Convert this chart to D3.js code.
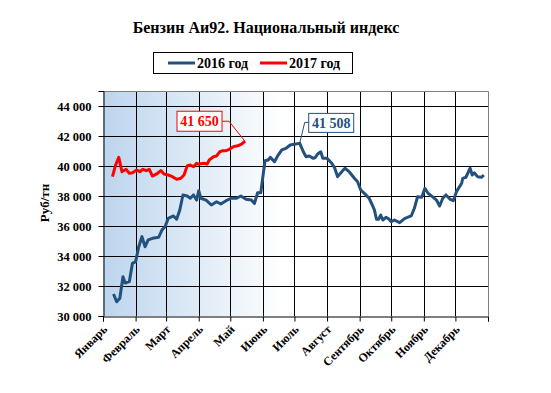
<!DOCTYPE html>
<html><head><meta charset="utf-8">
<script src="https://cdn.jsdelivr.net/npm/d3@7"></script>
<style>body{margin:0;background:#fff}svg{display:block}</style>
</head><body>
<script>
const title = "Бензин Аи92. Национальный индекс";
const yLabel = "Руб/тн";
const months = ["Январь","Февраль","Март","Апрель","Май","Июнь","Июль","Август","Сентябрь","Октябрь","Ноябрь","Декабрь"];
const yTicks = [30000,32000,34000,36000,38000,40000,42000,44000];
const seriesNames = ["2016 год","2017 год"];
// day of year (offset from 1 Jan) and price, series 2016
const days2016 = [10,13,16,19,21,25,28,31,34,37,40,43,47,53,56,59,62,67,70,73,76,80,83,86,89,91,93,98,103,108,112,117,122,127,131,136,141,144,147,150,152,154,157,159,163,166,170,174,178,183,187,190,193,196,200,202,204,207,209,213,217,220,223,227,230,234,239,242,245,250,253,256,258,260,262,264,266,269,272,274,277,282,287,293,296,299,303,306,309,314,317,320,323,326,330,333,336,341,342,345,349,351,353,356,360,362];
const values2016 = [31470,30950,31180,32620,32200,32290,33510,33620,34620,35290,34620,35070,35180,35250,35730,35950,36510,36670,36450,37070,38070,38000,37850,38070,37730,38350,37850,37730,37400,37620,37470,37690,37850,37850,38000,37780,37730,37510,38220,38220,39290,40350,40400,40580,40290,40670,41070,41180,41400,41470,41508,41020,40620,40670,40510,40580,40800,40950,40510,40510,40220,39910,39290,39620,39850,39620,39180,38950,38400,38070,37850,37400,37070,36450,36450,36730,36400,36580,36450,36290,36400,36220,36510,36670,37180,37950,37910,38510,38180,37910,37730,37330,37850,38070,37780,37690,38290,38850,39180,39250,39850,39400,39550,39290,39250,39400];
// series 2017
const days2017 = [9,12,15,18,22,25,28,32,35,38,41,44,47,51,55,58,62,66,70,74,77,80,83,86,89,91,96,99,101,105,108,111,114,117,120,124,127,130,132,135];
const values2017 = [39290,40070,40580,39620,39780,39510,39550,39730,39620,39780,39690,39780,39330,39470,39690,39470,39400,39290,39110,39180,39400,40000,40070,39950,40180,40130,40180,40130,40400,40620,40670,40950,41020,41020,41110,41290,41330,41400,41470,41650];
const labelTexts = ["41 508","41 650"];

const FONT = "'Liberation Serif', 'Times New Roman', 'DejaVu Serif', serif";
const W=551,H=393;
const L=103,R=488,T=91,B=316;
const svg=d3.select("body").append("svg").attr("width",W).attr("height",H)
  .attr("font-family",FONT).attr("font-weight","bold");
const base=new Date(2016,0,1);
const toDate=d=>d3.timeDay.offset(base,d);
const x=d3.scaleTime().domain([base,new Date(2017,0,1)]).range([L,R]);
const y=d3.scaleLinear().domain([30000,45000]).range([B,T]);

const defs=svg.append("defs");
const g=defs.append("linearGradient").attr("id","bg").attr("x1","0").attr("x2","1").attr("y1","0").attr("y2","0");
g.append("stop").attr("offset","0").attr("stop-color","#bcd5ed");
g.append("stop").attr("offset","0.47").attr("stop-color","#ffffff");
svg.append("rect").attr("x",L).attr("y",T).attr("width",R-L).attr("height",B-T).attr("fill","url(#bg)");

// gridlines
const monthStarts=d3.range(13).map(m=>new Date(2016,m,1));
svg.append("g").selectAll("line").data(monthStarts.slice(1,12)).join("line")
 .attr("x1",d=>Math.round(x(d))+0.5).attr("x2",d=>Math.round(x(d))+0.5).attr("y1",T).attr("y2",B).attr("stroke","#000").attr("stroke-width",1);
svg.append("g").selectAll("line").data(yTicks.slice(1)).join("line")
 .attr("x1",L).attr("x2",R).attr("y1",d=>Math.round(y(d))+0.5).attr("y2",d=>Math.round(y(d))+0.5).attr("stroke","#000").attr("stroke-width",1);
// border top/right gray
svg.append("path").attr("d",`M${L},${T+0.5}H${R+0.5}V${B}`).attr("fill","none").attr("stroke","#808080");

// axes
const yAxis=d3.axisLeft(y).tickValues(yTicks).tickSize(5).tickFormat(d=>d3.format(",")(d).replace(",", " "));
const ya=svg.append("g").attr("transform",`translate(${L+0.5},0)`).call(yAxis);
ya.attr("font-family",FONT);
ya.select(".domain").attr("stroke","#000");
ya.selectAll(".tick line").attr("stroke","#000");
ya.selectAll("text").attr("font-size",12.5).attr("font-family",FONT).attr("font-weight","bold").attr("fill","#000").attr("x",-12).attr("dy","0.35em");

const xAxis=d3.axisBottom(x).tickValues(monthStarts).tickSize(5).tickFormat("");
const xa=svg.append("g").attr("transform",`translate(0,${B+0.5})`).call(xAxis);
xa.select(".domain").attr("stroke","#000");
xa.selectAll(".tick line").attr("stroke","#000");
svg.append("g").selectAll("text").data(months).join("text")
 .attr("transform",(d,i)=>`translate(${x(monthStarts[i])+5},${B+14}) rotate(-45)`)
 .attr("text-anchor","end").attr("font-size",12).attr("font-family",FONT).attr("fill","#000").text(d=>d);

// lines
const line=d3.line().x(d=>x(toDate(d[0]))).y(d=>y(d[1]));
const s2016=days2016.map((d,i)=>[d,values2016[i]]);
const s2017=days2017.map((d,i)=>[d,values2017[i]]);
svg.append("path").datum(s2016).attr("d",line).attr("fill","none").attr("stroke","#23507d").attr("stroke-width",3).attr("stroke-linejoin","round");
svg.append("path").datum(s2017).attr("d",line).attr("fill","none").attr("stroke","#ff0000").attr("stroke-width",3).attr("stroke-linejoin","round");

// annotations
const peak16=s2016[d3.maxIndex(s2016,d=>d[1])];
const last17=s2017[s2017.length-1];
const p16=[x(toDate(peak16[0])),y(peak16[1])];
const p17=[x(toDate(last17[0])),y(last17[1])];
svg.append("path").attr("d",`M${p16[0]},${p16[1]}L${p16[0]+5},${p16[1]-21}H${p16[0]+9}`).attr("fill","none").attr("stroke","#23507d");
svg.append("rect").attr("x",p16[0]+9).attr("y",p16[1]-30).attr("width",45).attr("height",19).attr("fill","#fff").attr("stroke","#23507d");
svg.append("text").attr("x",p16[0]+31.5).attr("y",p16[1]-15.5).attr("text-anchor","middle").attr("font-size",14).attr("fill","#23507d").text(labelTexts[0]);
svg.append("path").attr("d",`M${p17[0]},${p17[1]}L${p17[0]-16},${p17[1]-20}H${p17[0]-23}`).attr("fill","none").attr("stroke","#ff0000");
svg.append("rect").attr("x",p17[0]-68).attr("y",p17[1]-30).attr("width",45).attr("height",20).attr("fill","#fff").attr("stroke","#ff0000");
svg.append("text").attr("x",p17[0]-45.5).attr("y",p17[1]-15).attr("text-anchor","middle").attr("font-size",14).attr("fill","#ff0000").text(labelTexts[1]);

// title
svg.append("text").attr("x",266).attr("y",33).attr("text-anchor","middle").attr("font-size",16).attr("fill","#000").text(title);
// y label
svg.append("text").attr("transform","translate(49,203) rotate(-90)").attr("text-anchor","middle").attr("font-size",13).attr("fill","#000").text(yLabel);

// legend
const lg=svg.append("g");
lg.append("rect").attr("x",153.5).attr("y",52.5).attr("width",199).attr("height",21).attr("fill","#fff").attr("stroke","#000");
const lcol=["#23507d","#ff0000"];
const lx=[168,260];
seriesNames.forEach((n,i)=>{
  lg.append("line").attr("x1",lx[i]).attr("x2",lx[i]+27).attr("y1",63).attr("y2",63).attr("stroke",lcol[i]).attr("stroke-width",3);
  lg.append("text").attr("x",lx[i]+29).attr("y",67.5).attr("font-size",14).attr("fill","#000").text(n);
});
</script>
</body></html>
